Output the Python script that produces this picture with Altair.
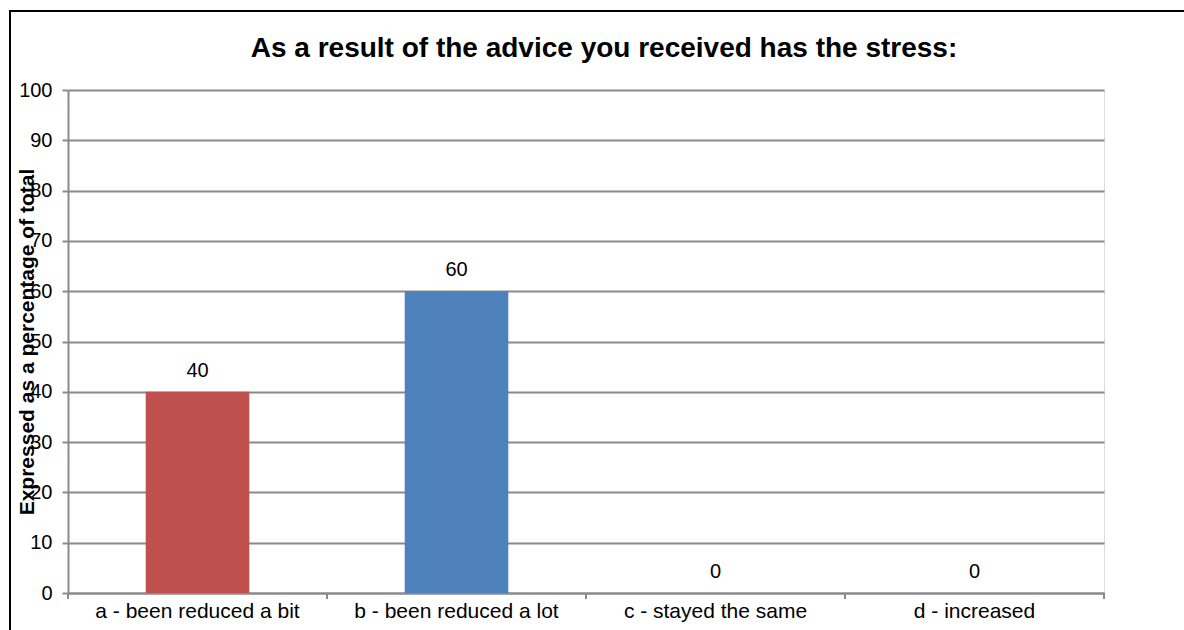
import altair as alt
import pandas as pd

categories = ["a - been reduced a bit", "b - been reduced a lot", "c - stayed the same", "d - increased"]
values = [40, 60, 0, 0]
colors = ["#C0504D", "#4F81BD", "#4F81BD", "#4F81BD"]
y_ticks = list(range(0, 101, 10))
boundaries = [0, 1, 2, 3, 4]
title_text = "As a result of the advice you received has the stress:"

W, H = 1036, 503
FONT = "Liberation Sans"
GRID = "#8A8A8A"

df = pd.DataFrame({"category": categories, "value": values, "color": colors})

x_enc = alt.X(
    "category:N",
    sort=categories,
    scale=alt.Scale(paddingInner=0.6, paddingOuter=0.3),
    axis=alt.Axis(
        title=None, labelAngle=0, ticks=False, domain=True, domainColor=GRID,
        domainWidth=2, labelFontSize=21, labelFont=FONT, labelColor="#000000",
        labelPadding=7, labelLimit=400,
    ),
)
y_enc = alt.Y(
    "value:Q",
    scale=alt.Scale(domain=[0, 100], nice=False),
    axis=alt.Axis(
        values=y_ticks, title="Expressed as a percentage of total",
        titleFont=FONT, titleFontSize=21, titleFontWeight="bold", titleColor="#000000",
        titleAngle=-90, titleX=-41, titleY=H / 2, titleBaseline="middle", titleAlign="center",
        labelFont=FONT, labelFontSize=20, labelColor="#000000", labelPadding=10,
        tickSize=6, tickColor=GRID, tickWidth=2, domainColor=GRID, domainWidth=2,
        gridColor=GRID, gridWidth=2,
    ),
)

bars = alt.Chart(df).mark_bar().encode(
    x=x_enc, y=y_enc, color=alt.Color("color:N", scale=None)
)

labels = alt.Chart(df).mark_text(
    baseline="alphabetic", dy=-15, fontSize=20, font=FONT, color="#000000"
).encode(
    x=alt.X("category:N", sort=categories),
    y=alt.Y("value:Q"),
    text=alt.Text("value:Q"),
)

main = alt.layer(bars, labels)

# category-boundary tick marks below the x axis
tick_df = pd.DataFrame({"b": boundaries})
xticks = alt.Chart(tick_df).mark_rule(color=GRID, strokeWidth=2).encode(
    x=alt.X("b:Q", scale=alt.Scale(domain=[0, 4], nice=False), axis=None),
    y=alt.value(H),
    y2=alt.value(H + 6),
)

one = pd.DataFrame({"t": [title_text]})

# chart heading, centred over the whole frame
heading = alt.Chart(one).mark_text(
    font=FONT, fontSize=28, fontWeight="bold", color="#000000",
    align="center", baseline="alphabetic",
).encode(x=alt.value(536), y=alt.value(-33), text="t:N")

# outer frame around the whole chart
frame = alt.Chart(one).mark_rect(
    fill=None, stroke="#000000", strokeWidth=2
).encode(
    x=alt.value(-58), x2=alt.value(1200), y=alt.value(-79), y2=alt.value(700)
)

chart = alt.layer(main, xticks, heading, frame).resolve_scale(x="independent").properties(
    width=W,
    height=H,
    autosize=alt.AutoSizeParams(type="none"),
    padding={"left": 68, "top": 90, "right": 80, "bottom": 37},
).configure_view(stroke=None).configure(background="#FFFFFF")

chart.save("out.html", embed_options={"renderer": "svg", "actions": False})
